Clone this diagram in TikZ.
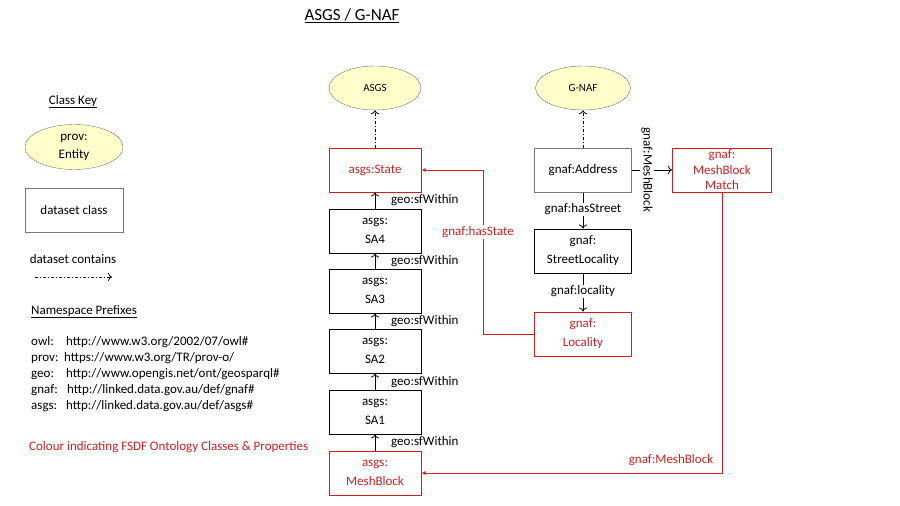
\documentclass[tikz,border=0pt]{standalone}
\usepackage{fontspec}
\setmainfont{Carlito}
\usetikzlibrary{shapes.geometric,arrows.meta}
\definecolor{fsdf}{RGB}{204,32,32}
\definecolor{entfill}{RGB}{255,255,204}
\definecolor{edgegray}{RGB}{120,120,120}
\begin{document}
\begin{tikzpicture}[x=1pt,y=-1pt,
 box/.style={draw, line width=1pt, minimum width=92pt, minimum height=44pt, align=center, font=\fontsize{13}{19}\selectfont, inner sep=1pt},
 redbox/.style={box, draw=fsdf, text=fsdf},
 ent/.style={ellipse, draw=edgegray, fill=entfill, minimum width=92pt, minimum height=44pt, align=center, inner sep=0pt},
 lbl/.style={font=\fontsize{13}{15}\selectfont, fill=white, inner sep=1pt},
 txt/.style={font=\fontsize{13}{15}\selectfont, inner sep=0pt, text height=9pt, text depth=3pt},
 arr/.style={-{To[length=4pt,width=8pt]}, line width=0.8pt},
 contains/.style={arr, dash pattern=on 3pt off 2pt on 1pt off 2pt},
 redarr/.style={-{Latex[length=4pt,width=4pt]}, draw=fsdf, line width=1pt},
]
\useasboundingbox (0,0) rectangle (900,506);

% title
\node[font=\fontsize{17}{20}\selectfont] (title) at (352,16) {\underline{ASGS / G-NAF}};

% key
\node[txt] (classkey) at (73,101) {\underline{Class Key}};
\node[ent, minimum width=98pt, minimum height=45pt, font=\fontsize{13}{18}\selectfont] (keyent) at (74,147) {prov:\\Entity};
\node[box, draw=edgegray, minimum width=98pt, line width=0.8pt] (keybox) at (74,210) {dataset class};
\node[txt] (contains) at (73,260) {dataset contains};
\coordinate (k1) at (35,277);
\coordinate (k2) at (112,277);
\draw[contains] (k1) -- (k2);

\node[txt, anchor=west] (nsp) at (31,311) {\underline{Namespace Prefixes}};
\node[txt, anchor=west] (p1) at (31,342) {owl:};
\node[txt, anchor=west] (u1) at (66,342) {http://www.w3.org/2002/07/owl\#};
\node[txt, anchor=west] (p2) at (31,358) {prov:};
\node[txt, anchor=west] (u2) at (64,358) {https://www.w3.org/TR/prov-o/};
\node[txt, anchor=west] (p3) at (31,374) {geo:};
\node[txt, anchor=west] (u3) at (66,374) {http://www.opengis.net/ont/geosparql\#};
\node[txt, anchor=west] (p4) at (31,390) {gnaf:};
\node[txt, anchor=west] (u4) at (67,390) {http://linked.data.gov.au/def/gnaf\#};
\node[txt, anchor=west] (p5) at (31,406) {asgs:};
\node[txt, anchor=west] (u5) at (66,406) {http://linked.data.gov.au/def/asgs\#};
\node[txt, anchor=west, text=fsdf] (colour) at (29,447) {Colour indicating FSDF Ontology Classes \& Properties};

% ASGS column
\node[ent, font=\fontsize{11}{13}\selectfont] (asgs) at (375,88) {ASGS};
\node[redbox] (state) at (375,170) {asgs:State};
\node[box] (sa4) at (375,231) {asgs:\\SA4};
\node[box] (sa3) at (375,291) {asgs:\\SA3};
\node[box] (sa2) at (375,351) {asgs:\\SA2};
\node[box] (sa1) at (375,412) {asgs:\\SA1};
\node[redbox] (mb) at (375,473) {asgs:\\MeshBlock};

\draw[contains] (state) -- (asgs);
\draw[arr] (sa4) -- (state);
\draw[arr] (sa3) -- (sa4);
\draw[arr] (sa2) -- (sa3);
\draw[arr] (sa1) -- (sa2);
\draw[arr] (mb) -- (sa1);
\node[txt, anchor=west] (w1) at (391,200) {geo:sfWithin};
\node[txt, anchor=west] (w2) at (391,261) {geo:sfWithin};
\node[txt, anchor=west] (w3) at (391,321) {geo:sfWithin};
\node[txt, anchor=west] (w4) at (391,382) {geo:sfWithin};
\node[txt, anchor=west] (w5) at (391,442) {geo:sfWithin};

% G-NAF column
\node[ent, minimum width=95pt, font=\fontsize{11}{13}\selectfont] (gnaf) at (583,88) {G-NAF};
\node[box, draw=edgegray, minimum width=97pt] (addr) at (583,170) {gnaf:Address};
\node[box, minimum width=97pt] (sl) at (583,251) {gnaf:\\StreetLocality};
\node[redbox, minimum width=97pt] (loc) at (583,334) {gnaf:\\Locality};
\node[redbox, minimum width=99pt, font=\fontsize{13}{15.5}\selectfont] (mbm) at (722,170) {gnaf:\\MeshBlock\\Match};

\draw[contains] (addr) -- (gnaf);
\draw[arr] (addr) -- node[lbl, pos=0.47] {gnaf:hasStreet} (sl);
\draw[arr] (sl) -- node[lbl, pos=0.47] {gnaf:locality} (loc);
\draw[arr] (addr) -- node[lbl, rotate=-90, pos=0.4, yshift=-1pt] {gnaf:MeshBlock} (mbm);

% red connectors
\coordinate (hs) at (483,334);
\draw[redarr] (loc.west) -- (hs) |- (state.east);
\node[lbl, text=fsdf] (hslbl) at (478,232) {gnaf:hasState};
\draw[redarr] (mbm.south) |- (mb.east);
\node[txt, text=fsdf] (mblbl) at (671,460) {gnaf:MeshBlock};
\end{tikzpicture}
\end{document}
